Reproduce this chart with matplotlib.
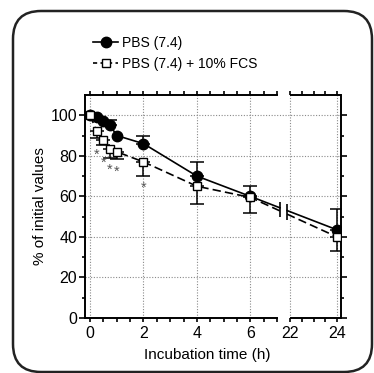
import numpy as np
import matplotlib
matplotlib.use("Agg")
import matplotlib.pyplot as plt
from matplotlib.lines import Line2D
from matplotlib.patches import FancyBboxPatch
from matplotlib.ticker import FixedLocator, FixedFormatter, NullFormatter

plt.rcParams['font.family'] = ['Liberation Sans', 'DejaVu Sans']

# ---------------- data ----------------
time_h = [0, 0.25, 0.5, 0.75, 1, 2, 4, 6, 24]
pbs = [100, 99, 97, 95, 90, 86, 70, 60, 43.5]
pbs_err_up = [0, 0, 0, 2.5, 0, 4, 7, 5, 10.5]
fcs = [100, 92, 88, 83.5, 82, 77, 65, 59.5, 40]
fcs_err_low = [0, 3, 2.5, 4.5, 3.5, 7, 9, 7.5, 7]
signif_times = [0.25, 0.5, 0.75, 1, 2]
signif_y = [80.5, 76.5, 73, 72, 64]
label_pbs = "PBS (7.4)"
label_fcs = "PBS (7.4) + 10% FCS"
x_major = [0, 2, 4, 6, 22, 24]
x_minor = [0.5, 1, 1.5, 2.5, 3, 3.5, 4.5, 5, 5.5, 6.5, 7, 22.5, 23, 23.5]
y_major = [0, 20, 40, 60, 80, 100]
y_minor = [10, 30, 50, 70, 90]

# ---------------- broken x scale ----------------
BRK_L, BRK_R = 7.0, 22.0
G = 13 / 26.7        # visual width of the gap (in left-part units)
K = 23.5 / 26.7      # scale of the right part relative to left part


def fwd(x):
    x = np.asarray(x, dtype=float)
    return np.where(x <= BRK_L, x,
                    np.where(x >= BRK_R, BRK_L + G + (x - BRK_R) * K,
                             BRK_L + (x - BRK_L) * G / (BRK_R - BRK_L)))


def inv(u):
    u = np.asarray(u, dtype=float)
    return np.where(u <= BRK_L, u,
                    np.where(u >= BRK_L + G, BRK_R + (u - BRK_L - G) / K,
                             BRK_L + (u - BRK_L) * (BRK_R - BRK_L) / G))


fig = plt.figure(figsize=(3.74, 3.73), dpi=100)
ax = fig.add_axes([85 / 374, 1 - 318 / 373, (341 - 85) / 374, (318 - 95) / 373])
ax.set_xscale('function', functions=(fwd, inv))
XMIN, XMAX = -0.19, 24.17
ax.set_xlim(XMIN, XMAX)
ax.set_ylim(0, 110)

# grid
for xv in x_major:
    ax.axvline(xv, color='#8a8a8a', lw=0.8, ls=(0, (1, 1.5)), zorder=0)
for yv in y_major[1:]:
    ax.axhline(yv, color='#8a8a8a', lw=0.8, ls=(0, (1, 1.5)), zorder=0)

t = np.array(time_h, float)
yp = np.array(pbs, float)
yf = np.array(fcs, float)

# split the 6 -> 24 segment at the axis break
u6, u24 = fwd(6), fwd(24)
ua = fwd(BRK_L) + 0.22 * G
ub = fwd(BRK_L) + 0.78 * G
xa, xb = float(inv(ua)), float(inv(ub))


def split(y):
    y6, y24 = y[t == 6][0], y[t == 24][0]
    fa = (ua - u6) / (u24 - u6)
    fb = (ub - u6) / (u24 - u6)
    return y6 + (y24 - y6) * fa, y6 + (y24 - y6) * fb


lw = 1.2
pa, pb = split(yp)
fa_, fb_ = split(yf)
left = t <= 6
# PBS
ax.plot(list(t[left]) + [xa], list(yp[left]) + [pa], color='black', lw=lw, zorder=3)
ax.plot([xb, 24], [pb, yp[-1]], color='black', lw=lw, zorder=3)
# FCS
dash = (0, (5, 2.5))
ax.plot(list(t[left]) + [xa], list(yf[left]) + [fa_], color='black', lw=lw, ls=dash, zorder=3)
ax.plot([xb, 24], [fb_, yf[-1]], color='black', lw=lw, ls=dash, zorder=3)
# break marks on the lines
ax.vlines([xa], min(pa, fa_) - 3, max(pa, fa_) + 3, color='black', lw=1.2, zorder=3)
ax.vlines([xb], min(pb, fb_) - 3, max(pb, fb_) + 3, color='black', lw=1.2, zorder=3)

# error bars
eu = np.array(pbs_err_up, float)
m = eu > 0
ax.errorbar(t[m], yp[m], yerr=[np.zeros(m.sum()), eu[m]], fmt='none', ecolor='black',
            elinewidth=1.1, capsize=5, capthick=1.1, zorder=3)
el = np.array(fcs_err_low, float)
m2 = el > 0
ax.errorbar(t[m2], yf[m2], yerr=[el[m2], np.zeros(m2.sum())], fmt='none', ecolor='black',
            elinewidth=1.1, capsize=5, capthick=1.1, zorder=4)

# markers
ax.plot(t, yp, ls='none', marker='o', ms=7.5, mfc='black', mec='black', zorder=5)
ax.plot(t, yf, ls='none', marker='s', ms=6.3, mfc='white', mec='black', mew=1.0, zorder=6)

# significance stars
for xs, ys in zip(signif_times, signif_y):
    ax.text(xs, ys, '*', ha='center', va='center', fontsize=10.5, color='#555555', zorder=6)

# spines and ticks
for s in ax.spines.values():
    s.set_linewidth(1.4)
ax.spines['bottom'].set_bounds(XMIN, BRK_L)
ax.spines['top'].set_bounds(XMIN, BRK_L)
for yy in (0, 1):
    ax.plot([BRK_R, XMAX], [yy, yy], transform=ax.get_xaxis_transform(), color='black',
            lw=1.4, clip_on=False, solid_capstyle='butt', zorder=7)

ax.xaxis.set_major_locator(FixedLocator(x_major))
ax.xaxis.set_major_formatter(FixedFormatter([str(v) for v in x_major]))
ax.xaxis.set_minor_locator(FixedLocator(x_minor))
ax.xaxis.set_minor_formatter(NullFormatter())
ax.yaxis.set_major_locator(FixedLocator(y_major))
ax.yaxis.set_minor_locator(FixedLocator(y_minor))
ax.tick_params(axis='x', which='both', direction='out', top=True, bottom=True,
               length=3, width=1.2, labelsize=11.5, pad=3)
ax.tick_params(axis='y', which='major', direction='out', left=True, right=True,
               length=4.5, width=1.2, labelsize=11.5, pad=1)
ax.tick_params(axis='y', which='minor', direction='out', left=True, right=True,
               length=2.2, width=1.2)
ax.set_xlabel("Incubation time (h)", fontsize=11, labelpad=4)
ax.set_ylabel("% of initial values", fontsize=11, labelpad=3)
ax.xaxis.set_label_coords(0.477, -0.135)

# legend
h1 = Line2D([], [], color='black', lw=lw, marker='o', ms=7.5, mfc='black')
h2 = Line2D([], [], color='black', lw=lw, ls=(0, (2.5, 2)), marker='s', ms=6.3, mfc='white', mew=1.0)
fig.legend([h1, h2], [label_pbs, label_fcs], loc='upper left',
           bbox_to_anchor=(93 / 374, 1 - 36 / 373), frameon=False, fontsize=10,
           handlelength=1.8, handletextpad=0.3, labelspacing=0.5, borderaxespad=0,
           borderpad=0)

# rounded border
fig.patches.append(FancyBboxPatch((13 / 374, 1 - 372 / 373), (372 - 13) / 374, (372 - 11) / 373,
                                  boxstyle='round,pad=0,rounding_size=0.075',
                                  transform=fig.transFigure, fill=False,
                                  edgecolor='#222222', lw=1.8))

fig.savefig('out.png', dpi=100)
